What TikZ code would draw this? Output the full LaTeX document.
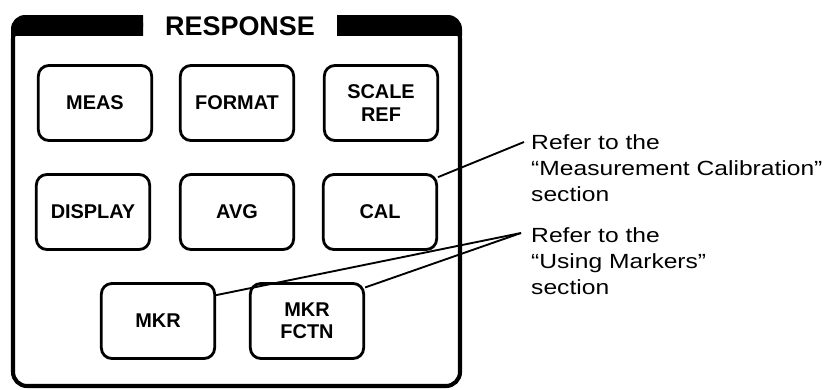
\documentclass[tikz,border=0pt]{standalone}
\usepackage{fontspec}
\setmainfont{Liberation Sans}
\newfontfamily\notefont[FakeStretch=1.2]{Liberation Sans}
\usepackage{tikz}
\tikzset{
  softkey/.style={draw, line width=2.4pt, rounded corners=9pt, minimum width=3.4cm, minimum height=2.25cm, inner sep=0pt, align=center, font=\fontsize{17}{19}\selectfont\bfseries},
  leader/.style={line width=1.6pt},
  note/.style={anchor=north west, inner sep=0pt, align=left, font=\notefont\fontsize{17.5}{22.5}\selectfont},
}

\begin{document}
\begin{tikzpicture}[x=0.03cm, y=-0.03cm]
\useasboundingbox (0,0) rectangle (839,389);
\draw[line width=3.5pt, rounded corners=12pt] (143,25) -- (13,25) -- (13,386) -- (460,386) -- (460,25) -- (337,25);
\begin{scope} \clip (0,0) rectangle (143,35); \fill[rounded corners=12pt] (11,15) rectangle (170,80); \end{scope}
\begin{scope} \clip (337,0) rectangle (839,35); \fill[rounded corners=12pt] (300,15) rectangle (462,80); \end{scope}
\node[font=\fontsize{23}{23}\selectfont\bfseries] (title) at (240,26) {RESPONSE};

\node[softkey] (meas) at (95,103) {MEAS};
\node[softkey] (format) at (237,103) {FORMAT};
\node[softkey] (scale) at (381,103) {SCALE\\REF};
\node[softkey] (display) at (93,212) {DISPLAY};
\node[softkey] (avg) at (237,212) {AVG};
\node[softkey] (cal) at (380,212) {CAL};
\node[softkey] (mkr) at (158,321) {MKR};
\node[softkey] (fctn) at (307,321) {MKR\\FCTN};

\node[note] (calnote) at (531,134) {Refer to the\\“Measurement Calibration”\\section};
\node[note] (mkrnote) at (531,227) {Refer to the\\“Using Markers”\\section};
\coordinate (calend) at (524,142);
\coordinate (mkrend) at (521,233);
\draw[leader] (cal.31) -- (calend);
\draw[leader] (mkr.24) -- (mkrend);
\draw[leader] (fctn.30) -- (mkrend);
\end{tikzpicture}
\end{document}
